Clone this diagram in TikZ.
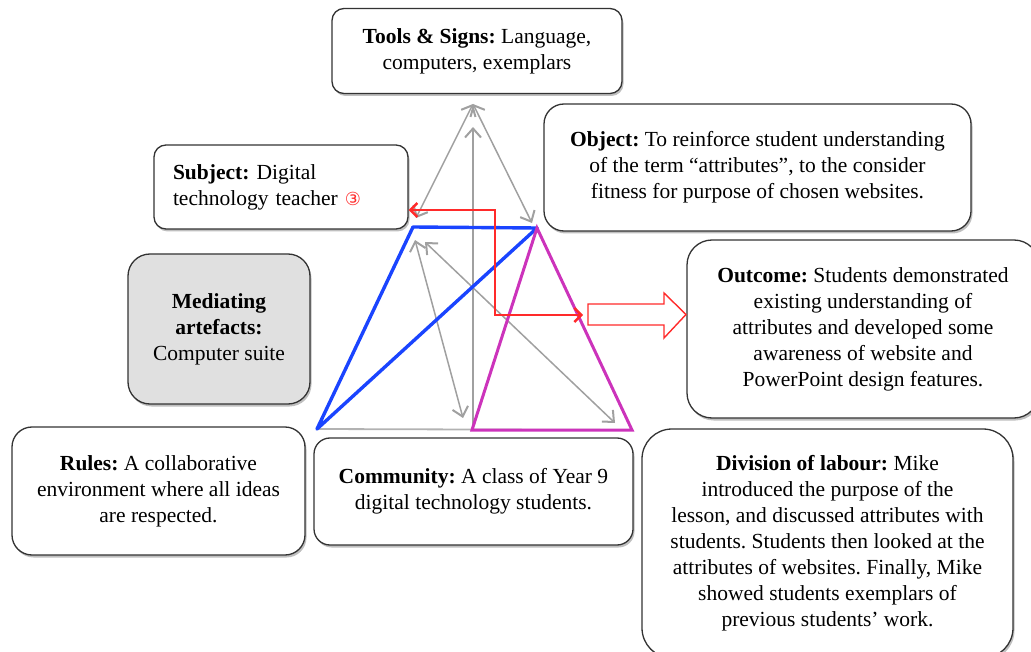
\documentclass[tikz,border=0pt]{standalone}
\usepackage{fontspec}
\setmainfont{Liberation Serif}
\newfontfamily\symfont{DejaVu Sans}
\usetikzlibrary{arrows.meta,shadows}
\definecolor{boxline}{HTML}{333333}
\definecolor{garrow}{HTML}{A0A0A0}
\definecolor{tblue}{HTML}{1A44FF}
\definecolor{tmag}{HTML}{CC33BB}
\definecolor{tred}{HTML}{FF2A2A}
\definecolor{medfill}{HTML}{E0E0E0}
\frenchspacing
\begin{document}
\begin{tikzpicture}[x=1pt,y=-1pt,
  box/.style={draw=boxline, line width=1.3pt, fill=white, align=center,
    font=\fontsize{21.5}{26}\selectfont, inner sep=0pt,
    drop shadow={shadow xshift=1.5pt, shadow yshift=-2.5pt, opacity=0.25, fill=black}},
  garr/.style={draw=garrow, line width=1.5pt,
    {Straight Barb[length=9pt,width=16pt,line width=2pt]}-{Straight Barb[length=9pt,width=16pt,line width=2pt]}},
  garrup/.style={draw=garrow, line width=1.5pt, {Straight Barb[length=9pt,width=16pt,line width=2pt]}-},
  bluel/.style={draw=tblue, line width=3.4pt, line cap=round, line join=round},
  magl/.style={draw=tmag, line width=3pt, line join=miter},
  redl/.style={draw=tred, line width=1.8pt,
    {Straight Barb[length=7pt,width=14pt,line width=2.4pt]}-{Straight Barb[length=7pt,width=14pt,line width=2.4pt]}},
  blockarr/.style={draw=tred, line width=1.4pt, fill=white, line join=miter}
]
\useasboundingbox (0,0) rectangle (1031,652);
\clip (0,0) rectangle (1031,652);

% boxes
\node[box, minimum width=290pt, minimum height=85pt, rounded corners=12pt] (tools) at (477,51)
  {\textbf{Tools \& Signs:} Language,\\ computers, exemplars};
\node[box, minimum width=254pt, minimum height=84pt, rounded corners=12pt, text width=216pt, align=left] (subj) at (281,187)
  {\textbf{Subject:} Digital\\ technology teacher {\symfont\fontsize{18}{20}\selectfont\color{tred}③}};
\node[box, minimum width=427pt, minimum height=127pt, rounded corners=20pt] (obj) at (757.5,167.5)
  {\textbf{Object:} To reinforce student understanding\\ of the term “attributes”, to the consider\\ fitness for purpose of chosen websites.};
\node[box, fill=medfill, minimum width=182pt, minimum height=150pt, rounded corners=22pt] (med) at (219,329)
  {\textbf{Mediating}\\ \textbf{artefacts:}\\ Computer suite};
\node[box, minimum width=352pt, minimum height=178pt, rounded corners=25pt] (out) at (863,329)
  {\textbf{Outcome:} Students demonstrated\\ existing understanding of\\ attributes and developed some\\ awareness of website and\\ PowerPoint design features.};
\node[box, minimum width=293pt, minimum height=128pt, rounded corners=20pt] (rules) at (158.5,491)
  {\textbf{Rules:} A collaborative\\ environment where all ideas\\ are respected.};
\node[box, minimum width=319pt, minimum height=107pt, rounded corners=16pt] (comm) at (473.5,491.5)
  {\textbf{Community:} A class of Year 9\\ digital technology students.};
\node[box, minimum width=371pt, minimum height=229pt, rounded corners=30pt] (div) at (827.5,543.5)
  {\textbf{Division of labour:} Mike\\ introduced the purpose of the\\ lesson, and discussed attributes with\\ students. Students then looked at the\\ attributes of websites. Finally, Mike\\ showed students exemplars of\\ previous students’ work.};

% triangle vertices
\coordinate (apex) at (473,104);
\coordinate (vS) at (413,227);
\coordinate (vO) at (537,228);
\coordinate (vR) at (317,429);
\coordinate (vC) at (472,430);
\coordinate (vD) at (632,430);

% gray arrow end points
\coordinate (gS) at (416,218);
\coordinate (gO) at (532,223);
\coordinate (vtop) at (473,127);
\coordinate (vbot) at (473,428);
\coordinate (d1a) at (415,240);
\coordinate (d1b) at (463,418);
\coordinate (d2a) at (425,242);
\coordinate (d2b) at (615,423);

\draw[draw=black!30, line width=1.8pt] (vR) -- (vD);
\path[garr] (apex) -- (gS);
\path[garr] (apex) -- (gO);
\path[garrup] (vtop) -- (vbot);
\path[garr] (d1a) -- (d1b);
\path[garr] (d2a) -- (d2b);

\draw[bluel] (vR) -- (vS) -- (vO) -- cycle;
\draw[magl] (vO) -- (vC) -- (vD) -- cycle;

% block arrow towards the outcome
\draw[blockarr] (588,304) -- (664,304) -- (664,293) -- (686,314.5) -- (664,338) -- (664,325) -- (588,325) -- cycle;
\coordinate (blk) at (583,315);

% red connector
\coordinate (rb1) at (495,210);
\coordinate (rb2) at (495,315);
\draw[redl] (subj.east |- rb1) -- (rb1) -- (rb2) -- (blk);
\end{tikzpicture}
\end{document}
